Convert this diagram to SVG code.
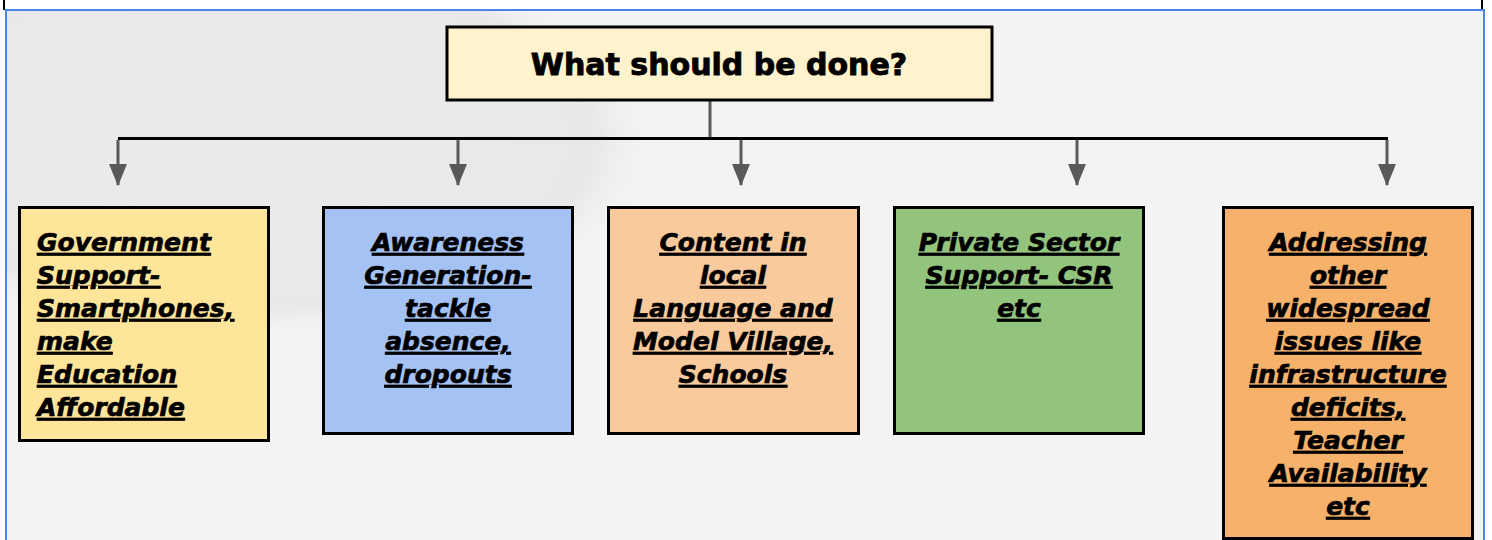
<svg xmlns="http://www.w3.org/2000/svg" width="1492" height="540" viewBox="0 0 1492 540">
<defs>
<style>
.box{stroke:#000;stroke-width:3}
.t{font-family:"DejaVu Sans",sans-serif;font-weight:bold;font-style:italic;font-size:25px;text-decoration:underline;fill:#000;stroke:#000;stroke-width:0.7}
.c{text-anchor:middle}
.title{font-family:"DejaVu Sans",sans-serif;font-weight:bold;font-size:30px;text-anchor:middle;fill:#000;stroke:#000;stroke-width:0.9}
.arr{stroke:#595959;stroke-width:3;fill:none}
</style>
<marker id="ah" viewBox="0 0 22 18" refX="21" refY="9" markerWidth="22" markerHeight="18" markerUnits="userSpaceOnUse" orient="auto">
<path d="M0,0 L22,9 L0,18 Z" fill="#595959"/>
</marker>
<radialGradient id="sw" cx="0.5" cy="0.5" r="0.5">
<stop offset="0" stop-color="#ebebeb"/>
<stop offset="0.85" stop-color="#e9e9e9"/>
<stop offset="1" stop-color="#f3f3f3" stop-opacity="0"/>
</radialGradient>
<clipPath id="bg"><rect x="6" y="10" width="1478" height="530"/></clipPath>
</defs>
<rect x="0" y="0" width="1492" height="540" fill="#fff"/>
<rect x="6" y="10" width="1478" height="530" fill="#f3f3f3"/>
<g clip-path="url(#bg)">
<ellipse cx="240" cy="140" rx="420" ry="200" fill="url(#sw)"/>
</g>
<line x1="4" y1="0" x2="4" y2="10" stroke="#000" stroke-width="2"/>
<line x1="1482" y1="0" x2="1482" y2="10" stroke="#000" stroke-width="2"/>
<path d="M6,540 L6,10 L1484,10 L1484,540" fill="none" stroke="#4a86e8" stroke-width="2"/>

<g id="connectors">
<line x1="710" y1="100" x2="710" y2="139" stroke="#595959" stroke-width="3"/>
<line x1="118" y1="138.5" x2="1388" y2="138.5" stroke="#000" stroke-width="3"/>
<line class="arr" x1="118" y1="140" x2="118" y2="185" marker-end="url(#ah)"/>
<line class="arr" x1="458" y1="140" x2="458" y2="185" marker-end="url(#ah)"/>
<line class="arr" x1="741" y1="140" x2="741" y2="185" marker-end="url(#ah)"/>
<line class="arr" x1="1077" y1="140" x2="1077" y2="185" marker-end="url(#ah)"/>
<line class="arr" x1="1387" y1="140" x2="1387" y2="185" marker-end="url(#ah)"/>
</g>

<g id="title">
<rect class="box" x="447" y="27" width="545" height="73" fill="#fff2cc"/>
<text class="title" x="719" y="75">What should be done?</text>
</g>

<g id="node1">
<rect class="box" x="19.5" y="207.5" width="249" height="233" fill="#ffe599"/>
<text class="t" x="37" y="251">Government</text>
<text class="t" x="37" y="284">Support-</text>
<text class="t" x="37" y="317">Smartphones,</text>
<text class="t" x="37" y="350">make</text>
<text class="t" x="37" y="383">Education</text>
<text class="t" x="37" y="416">Affordable</text>
</g>

<g id="node2">
<rect class="box" x="323.5" y="207.5" width="249" height="226" fill="#a4c2f4"/>
<text class="t c" x="448" y="251">Awareness</text>
<text class="t c" x="448" y="284">Generation-</text>
<text class="t c" x="448" y="317">tackle</text>
<text class="t c" x="448" y="350">absence,</text>
<text class="t c" x="448" y="383">dropouts</text>
</g>

<g id="node3">
<rect class="box" x="608.5" y="207.5" width="250" height="226" fill="#f9cb9c"/>
<text class="t c" x="733" y="251">Content in</text>
<text class="t c" x="733" y="284">local</text>
<text class="t c" x="733" y="317">Language and</text>
<text class="t c" x="733" y="350">Model Village,</text>
<text class="t c" x="733" y="383">Schools</text>
</g>

<g id="node4">
<rect class="box" x="894.5" y="207.5" width="249" height="226" fill="#93c47d"/>
<text class="t c" x="1019" y="251">Private Sector</text>
<text class="t c" x="1019" y="284">Support- CSR</text>
<text class="t c" x="1019" y="317">etc</text>
</g>

<g id="node5">
<rect class="box" x="1223.5" y="207.5" width="249" height="331" fill="#f6b26b"/>
<text class="t c" x="1348" y="251">Addressing</text>
<text class="t c" x="1348" y="284">other</text>
<text class="t c" x="1348" y="317">widespread</text>
<text class="t c" x="1348" y="350">issues like</text>
<text class="t c" x="1348" y="383">infrastructure</text>
<text class="t c" x="1348" y="416">deficits,</text>
<text class="t c" x="1348" y="449">Teacher</text>
<text class="t c" x="1348" y="482">Availability</text>
<text class="t c" x="1348" y="515">etc</text>
</g>
</svg>
